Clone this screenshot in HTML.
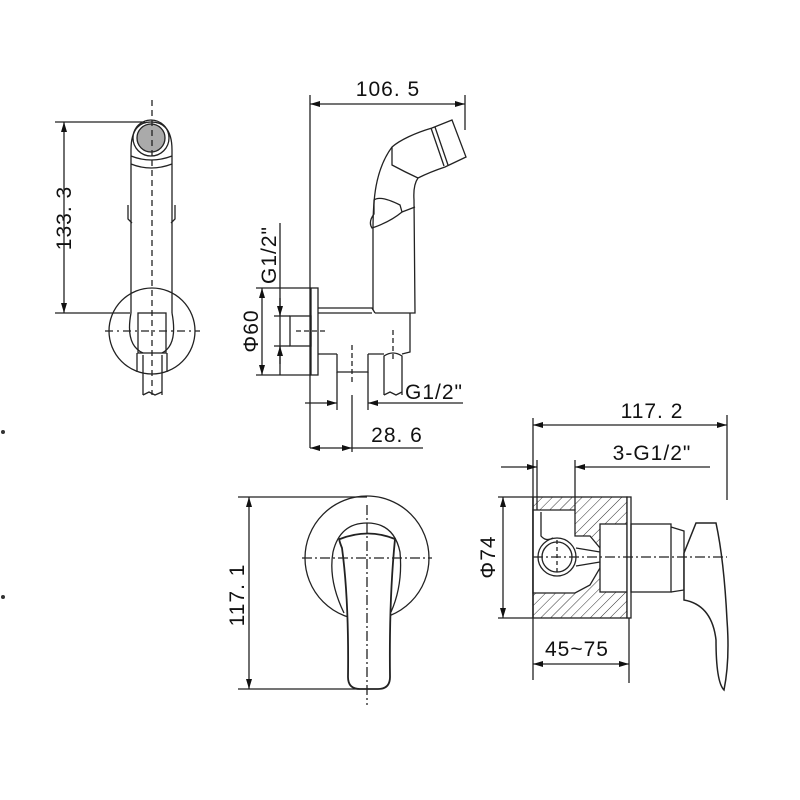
<!DOCTYPE html>
<html><head><meta charset="utf-8"><style>
html,body{margin:0;padding:0;background:#fff}
svg{display:block}
text{font-family:"Liberation Sans",sans-serif;font-size:21px;fill:#111;letter-spacing:1px}
</style></head><body>
<svg width="800" height="800" viewBox="0 0 800 800" xmlns="http://www.w3.org/2000/svg">
<defs>
<marker id="a" viewBox="0 0 10 6" refX="10" refY="3" markerWidth="10" markerHeight="6" orient="auto-start-reverse" markerUnits="userSpaceOnUse"><path d="M0,0 L10,3 L0,6 Z" fill="#111"/></marker>
<pattern id="h" width="7" height="7" patternUnits="userSpaceOnUse" patternTransform="rotate(45)"><line x1="0" y1="0" x2="0" y2="7" stroke="#333" stroke-width="1"/></pattern>
</defs>
<g fill="none" stroke="#222" stroke-width="1.3">
<!-- TOP LEFT VIEW -->
<line x1="55" y1="122" x2="145" y2="122"/>
<line x1="55" y1="313" x2="130" y2="313"/>
<line x1="64" y1="122" x2="64" y2="313" marker-start="url(#a)" marker-end="url(#a)"/>
<path d="M131,313 L131,150 Q131,122 151,122 Q172,122 172,150 L172,313"/>
<circle cx="151" cy="138" r="14" fill="#aaa" stroke="#222"/>
<circle cx="151" cy="138" r="18"/>
<path d="M131,156 Q151,164 172,156 M131,164 Q151,172 172,164"/>
<path d="M128,205 l0,14 l4,4 M175,205 l0,14 l-4,4"/>
<circle cx="152" cy="331" r="43"/>
<path d="M131,313 Q125,345 143,353 M172,313 Q178,345 162,353"/>
<rect x="138" y="313" width="28" height="40"/>
<path d="M137,353 L137,372 M167,353 L167,372 M143,355 L143,395 M162,355 L162,395"/>
<path d="M143,395 l6,-3 l6,3 l7,-3"/>
<line x1="152" y1="100" x2="152" y2="395" stroke-dasharray="6,4"/>
<line x1="105" y1="331" x2="200" y2="331" stroke-dasharray="8,4,2,4"/>
<!-- SIDE VIEW -->
<line x1="310" y1="95" x2="310" y2="448"/>
<line x1="465" y1="95" x2="465" y2="130"/>
<line x1="310" y1="104" x2="465" y2="104" marker-start="url(#a)" marker-end="url(#a)"/>
<path d="M373,310 L373,230 C373,200 375,170 392,147 C400,140 415,133 432,128 L452,120 L466,157 L445,167 Q430,172 418,178 Q413,185 414,200 L415,313 L375,313"/>
<path d="M431,128 L444,166 M435,127 L448,165"/>
<path d="M392,147 L392,165 Q405,172 418,178"/>
<path d="M374,200 Q380,195 400,205 L402,212 Q390,222 372,228 Q368,222 374,214 Z"/>
<path d="M402,212 L415,207"/>
<rect x="311" y="288" width="7" height="87"/>
<rect x="290" y="316" width="21" height="30"/>
<path d="M318,308 L372,308 L375,313 M318,313 L372,313"/>
<path d="M410,313 L410,352 L402,354 M384,354 L368,354 M337,354 L318,354"/>
<path d="M337,354 L337,372 L368,372 L368,354"/>
<path d="M384,395 L384,356 Q393,350 402,356 L402,395"/>
<path d="M384,395 l6,-3 l6,3 l6,-3"/>
<line x1="296" y1="331" x2="325" y2="331" stroke-dasharray="5,3"/>
<line x1="352" y1="345" x2="352" y2="382" stroke-dasharray="5,3"/>
<line x1="393" y1="330" x2="393" y2="360" stroke-dasharray="5,3"/>
<line x1="256" y1="288" x2="311" y2="288"/>
<line x1="256" y1="375" x2="311" y2="375"/>
<line x1="262" y1="288" x2="262" y2="375" marker-start="url(#a)" marker-end="url(#a)"/>
<line x1="274" y1="316" x2="290" y2="316"/>
<line x1="274" y1="346" x2="290" y2="346"/>
<line x1="280" y1="223" x2="280" y2="375"/>
<line x1="280" y1="298" x2="280" y2="316" marker-end="url(#a)"/>
<line x1="280" y1="364" x2="280" y2="346" marker-end="url(#a)"/>
<line x1="337" y1="372" x2="337" y2="410"/>
<line x1="368" y1="372" x2="368" y2="410"/>
<line x1="352" y1="395" x2="352" y2="452"/>
<line x1="305" y1="403" x2="337" y2="403" marker-end="url(#a)"/>
<line x1="463" y1="403" x2="368" y2="403" marker-end="url(#a)"/>
<line x1="310" y1="448" x2="352" y2="448" marker-start="url(#a)" marker-end="url(#a)"/>
<line x1="352" y1="448" x2="423" y2="448"/>
<!-- BOTTOM LEFT -->
<line x1="238" y1="497" x2="367" y2="497"/>
<line x1="238" y1="689" x2="360" y2="689"/>
<line x1="249" y1="497" x2="249" y2="689" marker-start="url(#a)" marker-end="url(#a)"/>
<circle cx="367" cy="558" r="62"/>
<path d="M344,613 Q328,580 333,552 Q340,523 367,523 Q394,523 400,552 Q403,585 391,612"/>
<path d="M340,539 Q338,538 342,548 Q349,600 348,677 Q348,689 360,689 L378,689 Q390,689 390,677 Q389,600 395,539 Q368,528 340,539 Z" fill="#fff" stroke-width="1.8"/>
<line x1="367" y1="505" x2="367" y2="705" stroke-dasharray="10,3,2,3"/>
<line x1="302" y1="558" x2="432" y2="558" stroke-dasharray="10,3,2,3"/>
<!-- BOTTOM RIGHT -->
<rect x="533" y="497" width="94" height="121" fill="url(#h)"/>
<path d="M533,510 L575,510 L575,536 L590,536 L600,548 L600,568 L590,585 L575,593 L533,593 Z" fill="#fff" stroke="#222"/>
<path d="M541,512 L541,536 Q546,542 553,538" />
<rect x="600" y="524" width="27" height="68" fill="#fff"/>
<line x1="533" y1="497" x2="533" y2="618"/>
<rect x="627" y="497" width="4" height="121" fill="#fff"/>
<circle cx="557" cy="557" r="19" fill="#fff"/>
<circle cx="557" cy="557" r="15"/>
<path d="M576,548 L600,552 M576,566 L600,562"/>
<rect x="631" y="524" width="40" height="68"/>
<path d="M671,527 L684,531 L684,590 L671,592"/>
<path d="M684,553 L696,523 L716,523 Q724,560 727,620 Q730,660 724,690 Q716,682 716,640 Q712,605 684,600 Z" fill="#fff" stroke-width="1.5"/>
<line x1="533" y1="557" x2="727" y2="557" stroke-dasharray="10,3,2,3"/>
<line x1="557" y1="540" x2="557" y2="575" stroke-dasharray="4,3"/>
<line x1="498" y1="497" x2="533" y2="497"/>
<line x1="498" y1="618" x2="533" y2="618"/>
<line x1="503" y1="497" x2="503" y2="618" marker-start="url(#a)" marker-end="url(#a)"/>
<line x1="533" y1="418" x2="533" y2="680"/>
<line x1="727" y1="415" x2="727" y2="500"/>
<line x1="533" y1="425" x2="727" y2="425" marker-start="url(#a)" marker-end="url(#a)"/>
<line x1="537" y1="460" x2="537" y2="510"/>
<line x1="575" y1="460" x2="575" y2="510"/>
<line x1="501" y1="467" x2="537" y2="467" marker-end="url(#a)"/>
<line x1="710" y1="467" x2="575" y2="467" marker-end="url(#a)"/>
<line x1="629" y1="618" x2="629" y2="683"/>
<line x1="533" y1="664" x2="629" y2="664" marker-start="url(#a)" marker-end="url(#a)"/>
</g>
<g>
<text x="388" y="96" text-anchor="middle">106. 5</text>
<text x="652" y="418" text-anchor="middle">117. 2</text>
<text x="652" y="460" text-anchor="middle">3-G1/2"</text>
<text x="577" y="656" text-anchor="middle">45~75</text>
<text x="397" y="442" text-anchor="middle">28. 6</text>
<text x="405" y="399">G1/2"</text>
<text transform="translate(71,218) rotate(-90)" text-anchor="middle">133. 3</text>
<text transform="translate(258,331) rotate(-90)" text-anchor="middle">Φ60</text>
<text transform="translate(276,255) rotate(-90)" text-anchor="middle">G1/2"</text>
<text transform="translate(244,595) rotate(-90)" text-anchor="middle">117. 1</text>
<text transform="translate(495,557) rotate(-90)" text-anchor="middle">Φ74</text>
</g>
<circle cx="3" cy="432" r="2" fill="#333"/>
<circle cx="3" cy="597" r="2" fill="#333"/>
</svg>
</body></html>
